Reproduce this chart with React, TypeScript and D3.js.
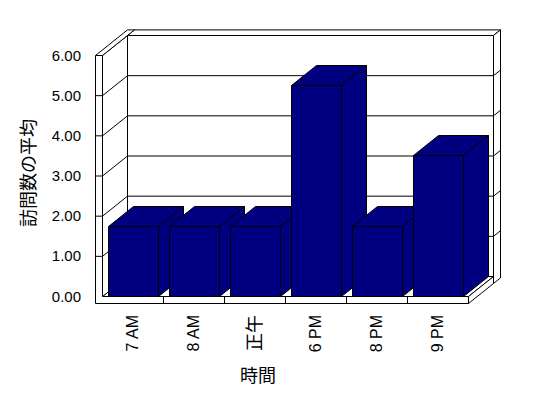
import React from "react";
import * as d3 from "d3";

const categories: string[] = ["7 AM", "8 AM", "正午", "6 PM", "8 PM", "9 PM"];
const values: number[] = [1.75, 1.75, 1.75, 5.25, 1.75, 3.5];
const yTicks: number[] = [0, 1, 2, 3, 4, 5, 6];
const yTickLabels: string[] = ["0.00", "1.00", "2.00", "3.00", "4.00", "5.00", "6.00"];
const yTitle = "訪問数の平均";
const xTitle = "時間";

const W = 548;
const H = 398;
const LEFT = 102;
const RIGHT = 468;
const BOTTOM = 296;
const TOP = 55;
const DEPTH = 25; // plot depth
const THICK = 7; // wall thickness
const SLOPE = 0.8;
const BAR_COLOR = "#000080";

const P = (x: number, y: number, z: number): [number, number] => [x + z, y - SLOPE * z];
const poly = (pts: [number, number][]) => pts.map((p) => p.join(",")).join(" ");
const isCJK = (s: string) => /[\u3000-\u9fff]/.test(s);

export default function App() {
  const x = d3.scaleBand<string>().domain(categories).range([LEFT, RIGHT]).padding(0);
  const y = d3.scaleLinear().domain([0, 6]).range([BOTTOM, TOP]);
  const bw = x.bandwidth();
  const inset = Math.round(bw * 0.1);
  const barW = Math.round(bw * 0.82);

  const L0 = LEFT - THICK;
  const B1 = BOTTOM + THICK;
  const Zb = DEPTH + THICK;

  const stroke = { stroke: "#000", strokeWidth: 1, strokeLinejoin: "miter" as const };

  return (
    <svg width={W} height={H} style={{ position: "absolute", left: 0, top: 0, background: "#fff" }}>
      <g transform="translate(0.5,0.5)">
        {/* back wall front face */}
        <polygon
          points={poly([P(LEFT, TOP, DEPTH), P(RIGHT, TOP, DEPTH), P(RIGHT, BOTTOM, DEPTH), P(LEFT, BOTTOM, DEPTH)])}
          fill="#fff"
          {...stroke}
        />
        {/* back wall top face */}
        <polygon
          points={poly([P(LEFT, TOP, DEPTH), P(RIGHT, TOP, DEPTH), P(RIGHT, TOP, Zb), P(LEFT, TOP, Zb)])}
          fill="#fff"
          {...stroke}
        />
        {/* back wall right face */}
        <polygon
          points={poly([P(RIGHT, TOP, DEPTH), P(RIGHT, B1, DEPTH), P(RIGHT, B1, Zb), P(RIGHT, TOP, Zb)])}
          fill="#fff"
          {...stroke}
        />
        {/* floor top */}
        <polygon
          points={poly([P(LEFT, BOTTOM, 0), P(RIGHT, BOTTOM, 0), P(RIGHT, BOTTOM, DEPTH), P(LEFT, BOTTOM, DEPTH)])}
          fill="#fff"
          {...stroke}
        />
        {/* floor right face */}
        <polygon
          points={poly([P(RIGHT, BOTTOM, 0), P(RIGHT, B1, 0), P(RIGHT, B1, DEPTH), P(RIGHT, BOTTOM, DEPTH)])}
          fill="#fff"
          {...stroke}
        />
        {/* left wall inner face */}
        <polygon
          points={poly([P(LEFT, TOP, 0), P(LEFT, BOTTOM, 0), P(LEFT, BOTTOM, DEPTH), P(LEFT, TOP, DEPTH)])}
          fill="#fff"
          {...stroke}
        />
        {/* left wall top face */}
        <polygon
          points={poly([P(L0, TOP, 0), P(LEFT, TOP, 0), P(LEFT, TOP, Zb), P(L0, TOP, Zb)])}
          fill="#fff"
          {...stroke}
        />
        {/* gridlines */}
        {yTicks
          .filter((t) => t > 0 && t < 6)
          .map((t) => {
            const yy = y(t);
            const a = P(LEFT, yy, 0);
            const b = P(LEFT, yy, DEPTH);
            const c = P(RIGHT, yy, DEPTH);
            const d = P(RIGHT, yy, Zb);
            return (
              <g key={"g" + t}>
                <polyline points={poly([a, b, c, d])} fill="none" {...stroke} />
              </g>
            );
          })}
        {/* front L face of left wall + floor */}
        <polygon
          points={poly([
            [L0, TOP],
            [LEFT, TOP],
            [LEFT, BOTTOM],
            [RIGHT, BOTTOM],
            [RIGHT, B1],
            [L0, B1],
          ])}
          fill="#fff"
          {...stroke}
        />
        {/* y ticks on front wall */}
        {yTicks
          .filter((t) => t > 0 && t < 6)
          .map((t) => (
            <line key={"t" + t} x1={L0} x2={LEFT} y1={y(t)} y2={y(t)} {...stroke} />
          ))}
        {/* category ticks on floor front */}
        {categories.slice(1).map((c) => (
          <line key={"c" + c} x1={x(c)!} x2={x(c)!} y1={BOTTOM} y2={B1} {...stroke} />
        ))}
        {/* bars */}
        {categories.map((c, i) => {
          const x0 = (x(c) as number) + inset;
          const x1 = x0 + barW;
          const yv = Math.round(y(values[i]));
          return (
            <g key={"b" + c}>
              <polygon
                points={poly([[x0, yv], [x1, yv], [x1, BOTTOM], [x0, BOTTOM]])}
                fill={BAR_COLOR}
                {...stroke}
              />
              <polygon
                points={poly([P(x0, yv, 0), P(x1, yv, 0), P(x1, yv, DEPTH), P(x0, yv, DEPTH)])}
                fill={BAR_COLOR}
                {...stroke}
              />
              <polygon
                points={poly([P(x1, yv, 0), P(x1, BOTTOM, 0), P(x1, BOTTOM, DEPTH), P(x1, yv, DEPTH)])}
                fill={BAR_COLOR}
                {...stroke}
              />
            </g>
          );
        })}
      </g>
      {/* y tick labels */}
      {yTicks.map((t, i) => (
        <text
          key={"yl" + t}
          x={81}
          y={y(t) + 5.5}
          textAnchor="end"
          fontFamily="'Liberation Sans', Arial, sans-serif"
          fontSize={15}
          fill="#000"
        >
          {yTickLabels[i]}
        </text>
      ))}
      {/* x labels */}
      {categories.map((c) => (
        <text
          key={"xl" + c}
          transform={`translate(${(x(c) as number) + bw / 2},315) rotate(-90)`}
          textAnchor="end"
          dy={isCJK(c) ? "0.38em" : "0.35em"}
          fontFamily={isCJK(c) ? "'Noto Sans CJK JP', sans-serif" : "'Liberation Sans', Arial, sans-serif"}
          fontSize={isCJK(c) ? 18 : 16}
          fill="#000"
        >
          {c}
        </text>
      ))}
      {/* axis titles */}
      <text
        transform="translate(35,173) rotate(-90)"
        textAnchor="middle"
        fontFamily="'Noto Sans CJK JP', sans-serif"
        fontSize={18}
        fill="#000"
      >
        {yTitle}
      </text>
      <text
        x={258}
        y={382}
        textAnchor="middle"
        fontFamily="'Noto Sans CJK JP', sans-serif"
        fontSize={18}
        fill="#000"
      >
        {xTitle}
      </text>
    </svg>
  );
}
